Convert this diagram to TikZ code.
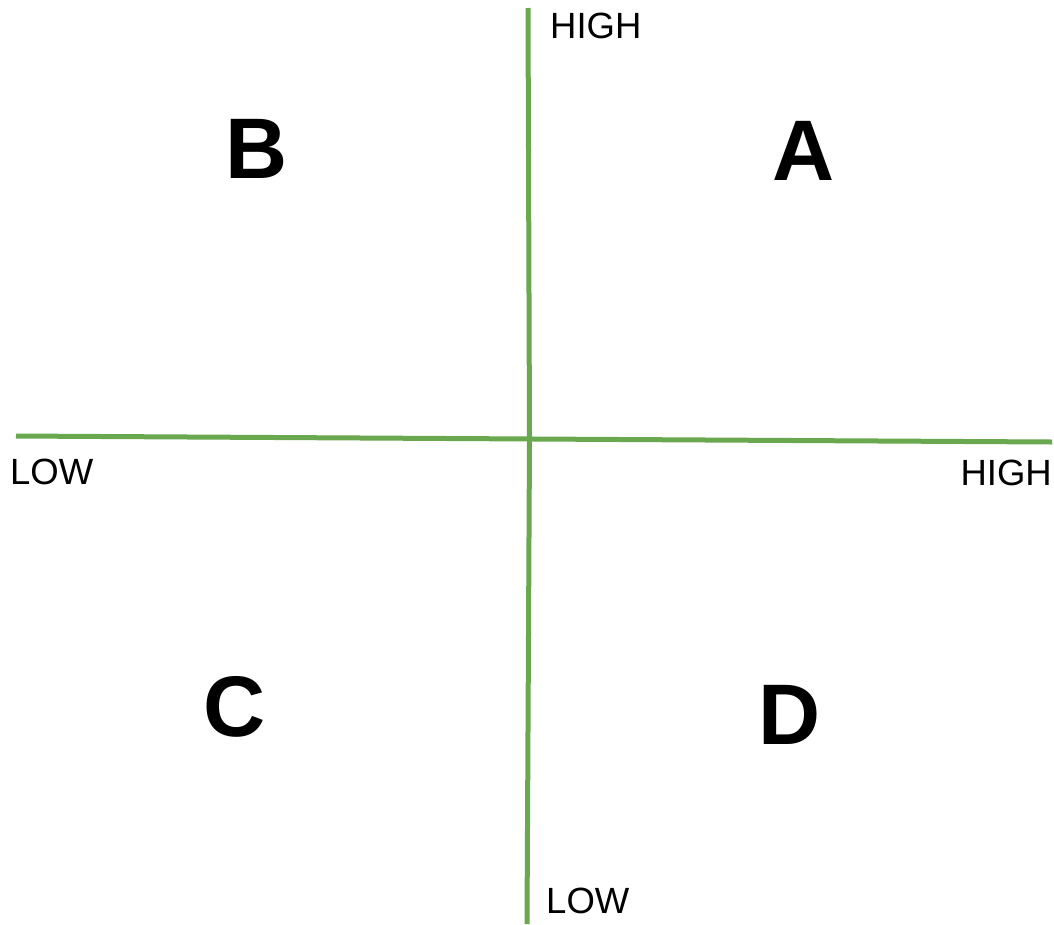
\documentclass[tikz,border=0pt]{standalone}
\usepackage{fontspec}
\setmainfont{Liberation Sans}
\definecolor{axisgreen}{HTML}{6AA84F}
\begin{document}
\begin{tikzpicture}[x=1pt,y=-1pt,
  axis/.style={draw=axisgreen,line width=5pt},
  lbl/.style={inner sep=0pt,font=\fontsize{36.5}{40}\selectfont},
  quad/.style={inner sep=0pt,anchor=base,font=\fontsize{86}{96}\selectfont\bfseries}]
\useasboundingbox (0,0) rectangle (1054,924);
\coordinate (vtop) at (528,8);
\coordinate (vmid) at (529.5,439);
\coordinate (vbot) at (527,924);
\coordinate (hleft) at (16,436);
\coordinate (hright) at (1052,442);
\draw[axis] (vtop) -- (vmid) -- (vbot);
\draw[axis] (hleft) -- (hright);
\node[lbl,anchor=base west] (yhigh) at (550,38) {HIGH};
\node[lbl,anchor=base west] (ylow) at (546,913) {LOW};
\node[lbl,anchor=base west] (xlow) at (10,484) {LOW};
\node[lbl,anchor=base east] (xhigh) at (1052,485) {HIGH};
\node[quad] (qa) at (804,180) {A};
\node[quad] (qb) at (257,178) {B};
\node[quad] (qc) at (235,736) {C};
\node[quad] (qd) at (790,744) {D};
\end{tikzpicture}
\end{document}
